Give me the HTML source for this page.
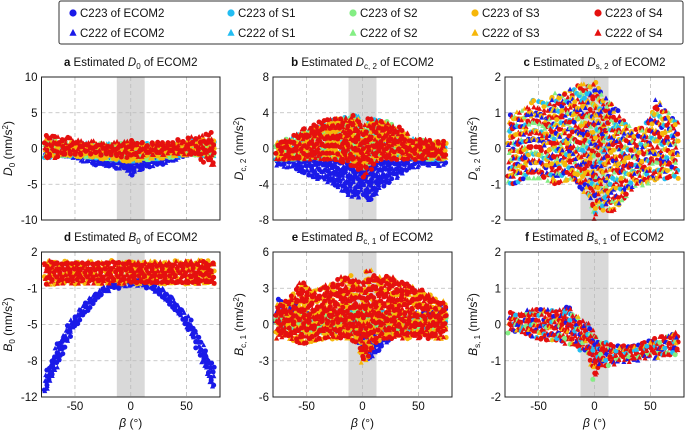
<!DOCTYPE html>
<html><head><meta charset="utf-8"><style>
body{margin:0;background:#fff}
svg{display:block;font-family:"Liberation Sans",sans-serif}
</style></head><body>
<svg id="chart" width="685" height="430" viewBox="0 0 685 430">
<g>
<rect x="59" y="1" width="624" height="43" fill="#fff" stroke="#333" stroke-width="1" rx="2"/>
</g>
</svg>
<script>
// beta grid for all series (degrees)
const betas = [-75,-65,-55,-45,-35,-25,-15,-5,0,5,15,25,35,45,55,75];
// panel a: D0
const aRedLo = [-1.5,-0.8,-0.6,-0.6,-0.6,-0.7,-0.8,-1,-1,-1,-0.8,-0.7,-0.6,-0.6,-0.6,-2.5];
const aRedHi = [2,1.5,1.2,1,0.8,0.6,0.6,0.8,1,0.8,0.6,0.6,0.8,1,1.5,2];
const aMidLo = [-1,-0.8,-0.8,-0.9,-1,-1.2,-1.3,-1.5,-1.6,-1.5,-1.3,-1.2,-1,-0.8,-0.6,-1];
const aMidHi = [1,0.8,0.6,0.5,0.4,0.4,0.4,0.5,0.6,0.5,0.4,0.4,0.4,0.6,0.8,1];
const aBlueLo = [-0.5,-0.8,-1,-1.5,-2,-2.3,-2.5,-2.8,-3.8,-3,-2.5,-2.2,-1.8,-1.2,-0.6,0];
const aBlueHi = [0.5,0,-0.3,-0.5,-0.7,-0.9,-1,-1.2,-1.4,-1.2,-1,-0.8,-0.6,-0.3,0,0.5];
// panel b: Dc2
const bRedLo = [-1,-1,-1,-1,-1,-1,-1.5,-2,-3,-2.5,-1,-1,-1,-1,-1,-1];
const bRedHi = [0.5,1,1.8,2.5,3,3.2,3.2,3.5,2,3.2,3,2.5,2,1,0.8,0.5];
const bMidLo = [-1,-1,-1,-0.8,-0.8,-0.8,-1,-1.5,-2,-1.5,-0.8,-0.8,-0.8,-0.8,-1,-1];
const bMidHi = [0.5,0.8,1.5,2,2.5,3,3.2,3.5,1,3,3,2.5,1.5,1,0.5,0.5];
const bBlueLo = [-1.8,-2,-2.5,-3,-3.5,-4,-5,-5.5,-5,-6,-4.5,-3.5,-2.8,-2,-1.8,-1.8];
const bBlueHi = [-1,-1,-1,-1,-1.2,-1.3,-1.5,-2,-2,-2,-1.5,-1.2,-1,-1,-1,-1];
// panel c: Ds2
const cLo = [-1,-0.8,-0.8,-0.8,-1,-0.8,-1,-1.3,-2,-1.6,-1.8,-1.5,-1,-1,-0.8,-0.8];
const cHi = [0.9,1,1.3,1.2,1.5,1.5,1.8,1.7,1.9,1.5,1.3,0.8,0.5,0.6,1.3,0.7];
// panel d: B0
const dRedLo = [-1,-0.9,-0.9,-0.9,-0.9,-0.9,-0.9,-0.9,-0.9,-0.9,-0.9,-0.9,-0.9,-0.9,-0.9,-1];
const dRedHi = [1,0.9,0.9,0.9,0.9,0.9,1,0.9,1.1,0.9,0.9,0.9,0.9,1,1,1];
const dBlueLo = [-11.5,-8.5,-6,-4.3,-3,-2,-1.5,-1.2,-1.3,-1.1,-1.4,-2,-3,-4.3,-6,-11.5];
const dBlueHi = [-9.5,-7,-5,-3.5,-2.3,-1.5,-1,-0.7,-0.5,-0.6,-0.9,-1.4,-2.3,-3.5,-5,-9.5];
// panel e: Bc1
const eRedLo = [-1,-1,-1.5,-1.2,-1,-1,-1,-1.3,-3,-2.5,-1,-1,-1,-1,-1,-1];
const eRedHi = [1.5,2,3.5,2.5,3,3.3,4,3.5,3,4.4,3.7,4,3.5,3,2.7,1.5];
const eMidLo = [-0.3,-0.3,-0.5,-0.5,-0.5,-0.4,-0.4,-0.4,-0.5,-0.4,-0.4,-0.4,-0.4,-0.4,-0.4,-0.3];
const eMidHi = [0.5,0.6,0.6,0.6,0.8,1,1,1,1,1,1,0.8,0.6,0.6,0.5,0.5];
const eBlueLo = [0.3,0,-0.3,-0.5,-0.5,-0.5,-0.5,-0.8,-2,-3,-2,-1,-0.5,-0.3,-0.3,0];
const eBlueHi = [2,1.8,1.2,0.8,0.6,0.5,0.5,0.3,-1,-0.8,-0.5,0.5,0.8,0.8,1,1.7];
// panel f: Bs1
const fLo = [-0.2,-0.2,-0.3,-0.4,-0.4,-0.5,-0.6,-0.8,-1.5,-1.1,-1.1,-1,-1,-0.9,-0.9,-0.8];
const fHi = [0.3,0.3,0.4,0.4,0.3,0.5,0.2,0,-0.3,-0.5,-0.6,-0.6,-0.6,-0.5,-0.4,-0.2];
// ticks
const xTicks = [-50,0,50];
const aTicks = [10,5,0,-5,-10];
const bTicks = [8,4,0,-4,-8];
const cTicks = [2,1,0,-1,-2];
const dTicks = [2,-1.5,-5,-8.5,-12];
const dTickLabels = ["2","-1","-5","-8","-12"];
const eTicks = [6,3,0,-3,-6];
const fTicks = [2,1,0,-1,-2];
const seriesNames = ["ECOM2","S1","S2","S3","S4"];

const NS="http://www.w3.org/2000/svg";
const svg=document.getElementById('chart');
const COLORS=["#1a1ae8","#22bdf2","#84ee84","#f6b70a","#e5100f"];
const MIXC=[4,0,3,4,2,1,4,3,0,4,2,3];
const MIXF=[4,4,0,4,3,4,4,2,4,0,4,1];
const JX=[-0.9,0.7,-0.2,1.1,-0.6,0.3,0.9,-1.2];
const JY=[0.4,-0.8,1.0,-0.3,0.7,-1.1,0.2,0.9,-0.5];
function mk(tag,attrs,parent){const e=document.createElementNS(NS,tag);for(const k in attrs)e.setAttribute(k,attrs[k]);(parent||svg).appendChild(e);return e;}
function marker(g,x,y,c,tri,r){
  if(tri){mk('polygon',{points:`${x},${y-r*1.15} ${x-r},${y+r*0.75} ${x+r},${y+r*0.75}`,fill:c},g);}
  else mk('circle',{cx:x,cy:y,r:r,fill:c},g);
}
const lcols=[73,231,353,475,598];
for(let i=0;i<5;i++){for(let j=0;j<2;j++){
  const g=mk('g',{});
  
  
  const y=j?33:13;
  marker(g,lcols[i],y,COLORS[i],j===1,3.6);
  const t=mk('text',{x:lcols[i]+7,y:y+4,'font-size':'11.5',fill:'#111'},g);
  t.textContent=(j?'C222':'C223')+' of '+seriesNames[i];
}}
function interp(arr,b){
  if(b<=betas[0])return arr[0];
  for(let i=0;i<betas.length-1;i++){if(b<=betas[i+1]){const t=(b-betas[i])/(betas[i+1]-betas[i]);return arr[i]+t*(arr[i+1]-arr[i]);}}
  return arr[arr.length-1];
}
function panel(o){
  const {x0,y0,x1,y1,ymin,ymax,ticks,labels,name}=o;
  const X=b=>x0+(b+80)/160*(x1-x0);
  const Y=v=>y1-(v-ymin)/(ymax-ymin)*(y1-y0);
  const g=mk('g',{});
  
  
  mk('rect',{x:X(-12.5),y:y0,width:X(12.5)-X(-12.5),height:y1-y0,fill:'#d9d9d9'},g);
  xTicks.forEach(t=>mk('line',{x1:X(t),x2:X(t),y1:y0,y2:y1,stroke:'#bbb','stroke-dasharray':'4,3','stroke-width':0.8},g));
  ticks.slice(1,-1).forEach(t=>mk('line',{x1:x0,x2:x1,y1:Y(t),y2:Y(t),stroke:'#bbb','stroke-dasharray':'4,3','stroke-width':0.8},g));
  const sg=mk('g',{},g);
  
  
  o.series.forEach((s,si)=>{
    let k=si*3;
    for(let b=-76;b<=74;b+=2.3){
      const lo=interp(s.lo,b),hi=interp(s.hi,b);
      const ylo=Y(lo),yhi=Y(hi);
      const n=Math.max(1,Math.ceil(Math.abs(ylo-yhi)/s.step));
      for(let q=0;q<=n;q++){
        k++;
        const yy=Math.min(y1-1,Math.max(y0+1,yhi+(ylo-yhi)*q/n+JY[k%JY.length]*s.step*0.4));
        const xx=X(b)+JX[k%JX.length]*1.3;
        const col=s.c===-1?COLORS[MIXC[k%MIXC.length]]:s.c===-2?COLORS[MIXF[k%MIXF.length]]:COLORS[s.c];
        marker(sg,xx,yy,col,(k%2)===0,2.5);
      }
    }
  });
  mk('rect',{x:x0,y:y0,width:x1-x0,height:y1-y0,fill:'none',stroke:'#222','stroke-width':1},g);
  ticks.forEach((t,i)=>{const tt=mk('text',{x:x0-4,y:Y(t)+4,'text-anchor':'end','font-size':'11.5',fill:'#111'},g);tt.textContent=labels?labels[i]:String(t);});
  if(o.bottom){xTicks.forEach(t=>{const tt=mk('text',{x:X(t),y:y1+13,'text-anchor':'middle','font-size':'11.5',fill:'#111'},g);tt.textContent=String(t);});
    const bl=mk('text',{x:(x0+x1)/2,y:y1+30,'text-anchor':'middle','font-size':'12',fill:'#111'},g);
    bl.innerHTML='<tspan font-style="italic">β</tspan> (°)';}
  const ti=mk('text',{x:(x0+x1)/2,y:y0-11,'text-anchor':'middle','font-size':'11.5',fill:'#111'},g);
  ti.innerHTML=o.title;
  const yl=mk('text',{x:0,y:0,'text-anchor':'middle','font-size':'12',fill:'#111',transform:`translate(${o.ylx},${(y0+y1)/2}) rotate(-90)`},g);
  yl.innerHTML=o.ylabel;
}
function S(c,lo,hi,step){return {c,lo,hi,step};}
const t=(l,sym,sub)=>`<tspan font-weight="bold">${l}</tspan> Estimated <tspan font-style="italic">${sym}</tspan><tspan font-size="8" dy="3">${sub}</tspan><tspan dy="-3"> of ECOM2</tspan>`;
const yl=(sym,sub)=>`<tspan font-style="italic">${sym}</tspan><tspan font-size="8" dy="3">${sub}</tspan><tspan dy="-3"> (nm/s</tspan><tspan font-size="8" dy="-4">2</tspan><tspan dy="4">)</tspan>`;
panel({name:'a',x0:41.5,y0:77,x1:220,y1:220,ymin:-10,ymax:10,ticks:aTicks,title:t('a','D','0'),ylabel:yl('D','0'),ylx:12,
 series:[S(0,aBlueLo,aBlueHi,3),S(1,aMidLo,aMidHi,5),S(2,aMidLo,aMidHi,5),S(3,aMidLo,aMidHi,5),S(4,aRedLo,aRedHi,4.5)]});
panel({name:'b',x0:273,y0:77,x1:452,y1:220,ymin:-8,ymax:8,ticks:bTicks,title:t('b','D','c, 2'),ylabel:yl('D','c, 2'),ylx:243,
 series:[S(0,bBlueLo,bBlueHi,3.5),S(1,bMidLo,bMidHi,6),S(2,bMidLo,bMidHi,6),S(3,bMidLo,bMidHi,5),S(4,bRedLo,bRedHi,5)]});
panel({name:'c',x0:505,y0:77,x1:684,y1:220,ymin:-2,ymax:2,ticks:cTicks,title:t('c','D','s, 2'),ylabel:yl('D','s, 2'),ylx:477,
 series:[S(-1,cLo,cHi,4.5)]});
panel({name:'d',x0:41.5,y0:252,x1:220,y1:397,ymin:-12,ymax:2,ticks:dTicks,labels:dTickLabels,bottom:true,title:t('d','B','0'),ylabel:yl('B','0'),ylx:12,
 series:[S(0,dBlueLo,dBlueHi,3),S(3,dRedLo,dRedHi,5),S(4,dRedLo,dRedHi,4)]});
panel({name:'e',x0:273,y0:252,x1:452,y1:397,ymin:-6,ymax:6,ticks:eTicks,bottom:true,title:t('e','B','c, 1'),ylabel:yl('B','c, 1'),ylx:243,
 series:[S(0,eBlueLo,eBlueHi,3.5),S(1,eMidLo,eMidHi,5),S(2,eMidLo,eMidHi,5),S(3,eRedLo,eRedHi,6),S(4,eRedLo,eRedHi,5)]});
panel({name:'f',x0:505,y0:252,x1:684,y1:397,ymin:-2,ymax:2,ticks:fTicks,bottom:true,title:t('f','B','s, 1'),ylabel:yl('B','s, 1'),ylx:477,
 series:[S(-2,fLo,fHi,3.5)]});
</script>
</body></html>
